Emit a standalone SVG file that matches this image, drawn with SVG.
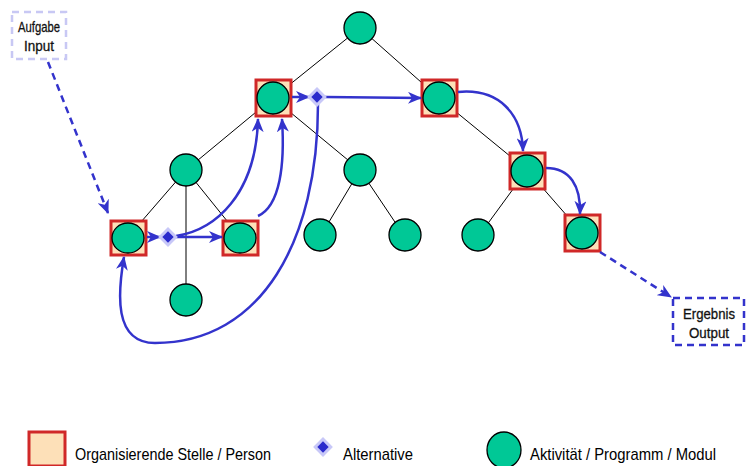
<svg xmlns="http://www.w3.org/2000/svg" width="747" height="466" viewBox="0 0 747 466">
  <defs>
    <style>
      .tree { stroke: #000; stroke-width: 1; fill: none; }
      .act { fill: #00c896; stroke: #000; stroke-width: 1.3; }
      .org { fill: #fde0b8; stroke: #d02828; stroke-width: 3; }
      .flow { stroke: #3333cc; stroke-width: 2.5; fill: none; marker-end: url(#arrow); }
      .dash { stroke-dasharray: 7 5; }
      .altOuter { fill: #c8c8f8; }
      .altInner { fill: #2a2acc; }
      .lbl { font-family: "Liberation Sans", Arial, sans-serif; font-size: 15px; fill: #111; text-anchor: middle; stroke: #111; stroke-width: 0.3; }
      .legend { font-family: "Liberation Sans", Arial, sans-serif; font-size: 17px; fill: #000; }
    </style>
    <marker id="arrow" markerUnits="userSpaceOnUse" viewBox="0 0 14 12" refX="13" refY="6" markerWidth="14" markerHeight="12" orient="auto">
      <path d="M0,0 L14,6 L0,12 L4,6 z" fill="#3333cc"/>
    </marker>
    <g id="alt">
      <rect class="altOuter" x="-7" y="-7" width="14" height="14" transform="rotate(45)"/>
      <rect class="altInner" x="-4" y="-4" width="8" height="8" transform="rotate(45)"/>
    </g>
  </defs>

  <!-- tree structure -->
  <g id="tree">
    <line class="tree" x1="360" y1="28" x2="273" y2="98"/>
    <line class="tree" x1="360" y1="28" x2="439" y2="98"/>
    <line class="tree" x1="273" y1="98" x2="186" y2="170"/>
    <line class="tree" x1="273" y1="98" x2="360" y2="170"/>
    <line class="tree" x1="439" y1="98" x2="527" y2="170"/>
    <line class="tree" x1="186" y1="170" x2="128" y2="237"/>
    <line class="tree" x1="186" y1="170" x2="240" y2="237"/>
    <line class="tree" x1="186" y1="170" x2="186" y2="300"/>
    <line class="tree" x1="360" y1="170" x2="320" y2="237"/>
    <line class="tree" x1="360" y1="170" x2="405" y2="237"/>
    <line class="tree" x1="527" y1="170" x2="478" y2="237"/>
    <line class="tree" x1="527" y1="170" x2="582" y2="233"/>
  </g>

  <!-- nodes -->
  <g id="n-root"><circle class="act" cx="360" cy="28" r="16"/></g>
  <g id="n-org-a"><rect class="org" x="256" y="80" width="35" height="36"/><circle class="act" cx="273" cy="98" r="16"/></g>
  <g id="n-org-b"><rect class="org" x="422" y="80" width="35" height="36"/><circle class="act" cx="439" cy="98" r="16"/></g>
  <g id="n-act-a"><circle class="act" cx="186" cy="170" r="16"/></g>
  <g id="n-act-b"><circle class="act" cx="360" cy="170" r="16"/></g>
  <g id="n-org-c"><rect class="org" x="510" y="153" width="35" height="36"/><circle class="act" cx="527" cy="171" r="16"/></g>
  <g id="n-org-d"><rect class="org" x="111" y="221" width="35" height="34"/><ellipse class="act" cx="128" cy="238" rx="16" ry="15"/></g>
  <g id="n-org-e"><rect class="org" x="223" y="221" width="35" height="34"/><ellipse class="act" cx="240" cy="238" rx="16" ry="15"/></g>
  <g id="n-act-c"><circle class="act" cx="320" cy="235" r="16"/></g>
  <g id="n-act-d"><circle class="act" cx="405" cy="235" r="16"/></g>
  <g id="n-act-e"><circle class="act" cx="478" cy="235" r="16"/></g>
  <g id="n-org-f"><rect class="org" x="565" y="215" width="35" height="36"/><circle class="act" cx="582" cy="233" r="16"/></g>
  <g id="n-act-f"><circle class="act" cx="186" cy="300" r="16"/></g>

  <g id="n-input">
    <rect x="12" y="12" width="54" height="47" fill="none" stroke="#c8c8f4" stroke-width="2.5" stroke-dasharray="7 5"/>
    <text class="lbl" x="39" y="32" textLength="42" lengthAdjust="spacingAndGlyphs">Aufgabe</text>
    <text class="lbl" x="39" y="51" textLength="30" lengthAdjust="spacingAndGlyphs">Input</text>
  </g>
  <g id="n-output">
    <rect x="673" y="298" width="71" height="47" fill="none" stroke="#3333cc" stroke-width="2.5" stroke-dasharray="7 5"/>
    <text class="lbl" x="709" y="319" textLength="52" lengthAdjust="spacingAndGlyphs">Ergebnis</text>
    <text class="lbl" x="709" y="338" textLength="40" lengthAdjust="spacingAndGlyphs">Output</text>
  </g>

  <!-- connectors -->
  <g id="connectors">
    <path class="flow" d="M147,237 L160,237"/>
    <path class="flow" d="M176,237 L222,237"/>
    <path class="flow" d="M176,236 C215,230 256,195 258,119"/>
    <path class="flow" d="M258,216 C280,206 285,165 282,119"/>
    <path class="flow" d="M292,97 L309,97"/>
    <path class="flow" d="M325,97 L421,98"/>
    <path class="flow" d="M318,104 C318,240 262,343 155,343 C113,343 118,292 124,257"/>
    <path class="flow" d="M458,92 C500,88 522,115 523,151"/>
    <path class="flow" d="M546,168 C570,168 581,186 580,214"/>
    <path class="flow dash" d="M48,62 L108,213"/>
    <path class="flow dash" d="M600,252 L671,297"/>
  </g>
  <g id="alternatives">
    <use href="#alt" x="317" y="97"/>
    <use href="#alt" x="168" y="237"/>
  </g>

  <!-- legend -->
  <g id="legend">
    <rect class="org" x="29" y="432" width="36" height="34"/>
    <text class="legend" x="75" y="460" textLength="196" lengthAdjust="spacingAndGlyphs">Organisierende Stelle / Person</text>
    <use href="#alt" x="323" y="447"/>
    <text class="legend" x="343" y="460" textLength="70" lengthAdjust="spacingAndGlyphs">Alternative</text>
    <ellipse class="act" cx="504" cy="450" rx="17" ry="18"/>
    <text class="legend" x="530" y="460" textLength="186" lengthAdjust="spacingAndGlyphs">Aktivität / Programm / Modul</text>
  </g>
</svg>
